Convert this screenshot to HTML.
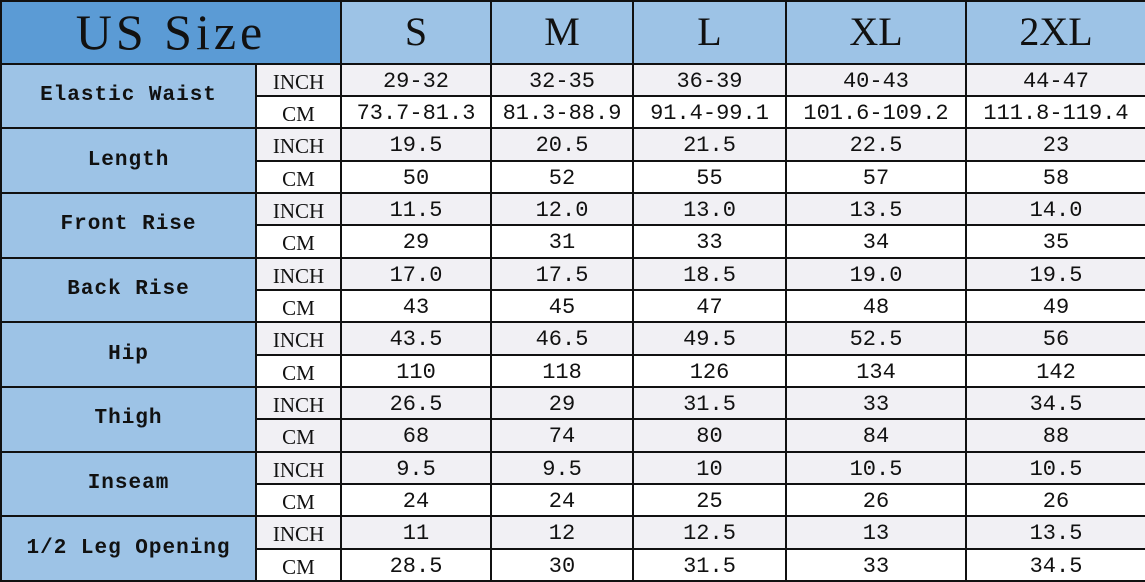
<!DOCTYPE html>
<html><head><meta charset="utf-8"><style>
html,body{margin:0;padding:0;background:#fff;overflow:hidden;}
table{border-collapse:collapse;table-layout:fixed;width:1145px;height:582px;font-family:"Liberation Mono","Noto Sans CJK SC",monospace;}
td{border:2px solid #111;text-align:center;padding:0;font-size:22px;color:#111;height:30px;line-height:30px;overflow:hidden;white-space:nowrap;}
td span{position:relative;top:2px;}
tr.h td{height:60px;background:#9dc3e6;font-family:"Liberation Serif","Noto Serif CJK SC",serif;font-size:40px;}
tr.h td.us{background:#5b9bd5;font-size:50px;letter-spacing:4px;}
td.lab{background:#9dc3e6;font-weight:bold;font-size:21px;letter-spacing:1px;}
td.u{font-family:"Liberation Serif",serif;font-size:21px;}
tr.i td{background:#f1f0f4;}
tr.c td{background:#fff;}
tr.i td.lab,tr.c td.lab{background:#9dc3e6;}
</style></head><body>
<table>
<colgroup><col style="width:255px"><col style="width:85px"><col style="width:150px"><col style="width:142px"><col style="width:153px"><col style="width:180px"><col style="width:180px"></colgroup>
<tr class="h"><td class="us" colspan="2">US Size</td><td>S</td><td>M</td><td>L</td><td>XL</td><td>2XL</td></tr>
<tr class="i"><td class="lab" rowspan="2">Elastic Waist</td><td class="u"><span>INCH</span></td><td><span>29-32</span></td><td><span>32-35</span></td><td><span>36-39</span></td><td><span>40-43</span></td><td><span>44-47</span></td></tr>
<tr class="c"><td class="u"><span>CM</span></td><td><span>73.7-81.3</span></td><td><span>81.3-88.9</span></td><td><span>91.4-99.1</span></td><td><span>101.6-109.2</span></td><td><span>111.8-119.4</span></td></tr>
<tr class="i"><td class="lab" rowspan="2">Length</td><td class="u"><span>INCH</span></td><td><span>19.5</span></td><td><span>20.5</span></td><td><span>21.5</span></td><td><span>22.5</span></td><td><span>23</span></td></tr>
<tr class="c"><td class="u"><span>CM</span></td><td><span>50</span></td><td><span>52</span></td><td><span>55</span></td><td><span>57</span></td><td><span>58</span></td></tr>
<tr class="i"><td class="lab" rowspan="2">Front Rise</td><td class="u"><span>INCH</span></td><td><span>11.5</span></td><td><span>12.0</span></td><td><span>13.0</span></td><td><span>13.5</span></td><td><span>14.0</span></td></tr>
<tr class="c"><td class="u"><span>CM</span></td><td><span>29</span></td><td><span>31</span></td><td><span>33</span></td><td><span>34</span></td><td><span>35</span></td></tr>
<tr class="i"><td class="lab" rowspan="2">Back Rise</td><td class="u"><span>INCH</span></td><td><span>17.0</span></td><td><span>17.5</span></td><td><span>18.5</span></td><td><span>19.0</span></td><td><span>19.5</span></td></tr>
<tr class="c"><td class="u"><span>CM</span></td><td><span>43</span></td><td><span>45</span></td><td><span>47</span></td><td><span>48</span></td><td><span>49</span></td></tr>
<tr class="i"><td class="lab" rowspan="2">Hip</td><td class="u"><span>INCH</span></td><td><span>43.5</span></td><td><span>46.5</span></td><td><span>49.5</span></td><td><span>52.5</span></td><td><span>56</span></td></tr>
<tr class="c"><td class="u"><span>CM</span></td><td><span>110</span></td><td><span>118</span></td><td><span>126</span></td><td><span>134</span></td><td><span>142</span></td></tr>
<tr class="i"><td class="lab" rowspan="2">Thigh</td><td class="u"><span>INCH</span></td><td><span>26.5</span></td><td><span>29</span></td><td><span>31.5</span></td><td><span>33</span></td><td><span>34.5</span></td></tr>
<tr class="i"><td class="u"><span>CM</span></td><td><span>68</span></td><td><span>74</span></td><td><span>80</span></td><td><span>84</span></td><td><span>88</span></td></tr>
<tr class="i"><td class="lab" rowspan="2">Inseam</td><td class="u"><span>INCH</span></td><td><span>9.5</span></td><td><span>9.5</span></td><td><span>10</span></td><td><span>10.5</span></td><td><span>10.5</span></td></tr>
<tr class="c"><td class="u"><span>CM</span></td><td><span>24</span></td><td><span>24</span></td><td><span>25</span></td><td><span>26</span></td><td><span>26</span></td></tr>
<tr class="i"><td class="lab" rowspan="2">1/2 Leg Opening</td><td class="u"><span>INCH</span></td><td><span>11</span></td><td><span>12</span></td><td><span>12.5</span></td><td><span>13</span></td><td><span>13.5</span></td></tr>
<tr class="c"><td class="u"><span>CM</span></td><td><span>28.5</span></td><td><span>30</span></td><td><span>31.5</span></td><td><span>33</span></td><td><span>34.5</span></td></tr>
</table>
</body></html>
